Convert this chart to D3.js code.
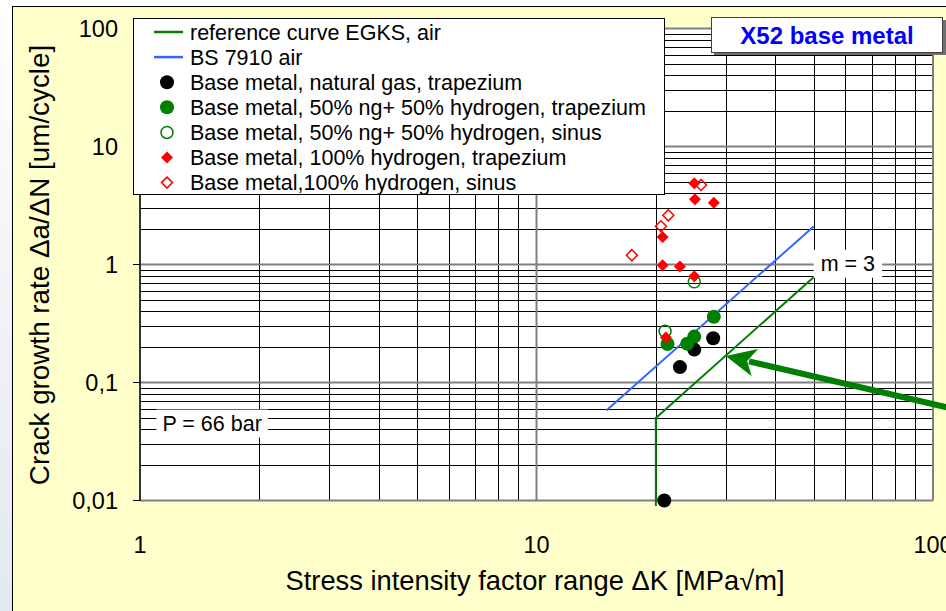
<!DOCTYPE html>
<html><head><meta charset="utf-8">
<script src="https://cdn.jsdelivr.net/npm/d3@7"></script>
<style>body{margin:0;background:#fff} svg{display:block}</style>
</head><body>
<svg id="chart" width="946" height="611"></svg>
<script>
// ---- axis ticks ----
const xTicks = [1, 10, 100];
const xTickLabels = ["1", "10", "100"];
const yTicks = [0.01, 0.1, 1, 10, 100];
const yTickLabels = ["0,01", "0,1", "1", "10", "100"];

// ---- reference curves (ΔK in MPa√m, da/dN in um/cycle) ----
const egksK = [20, 20, 50];
const egksRate = [0.009, 0.05, 0.78];
const bsK = [15, 50];
const bsRate = [0.058, 2.1];

// ---- measured crack growth rates ----
const ngK = [21.0, 23.0, 25.0, 27.9];
const ngRate = [0.01, 0.135, 0.19, 0.237];
const h50TrapK = [21.4, 24.0, 25.0, 28.0];
const h50TrapRate = [0.212, 0.213, 0.245, 0.361];
const h50SinK = [21.1, 25.0];
const h50SinRate = [0.272, 0.713];
const h100TrapK = [20.8, 20.8, 21.2, 23.0, 25.0, 25.0, 25.1, 28.0];
const h100TrapRate = [1.71, 0.986, 0.241, 0.962, 0.795, 4.87, 3.57, 3.34];
const h100SinK = [17.4, 20.6, 21.5, 26.0];
const h100SinRate = [1.20, 2.11, 2.61, 4.72];

// ---- annotations ----
const slopeLabel = {text: "m = 3", k: 61, rate: 1.03};
const pressureLabel = {text: "P = 66 bar", k: 1.52, rate: 0.0455};
const arrowFrom = [112, 0.06];
const arrowTo = [30, 0.168];

const legendItems = [
  {label: "reference curve EGKS, air", type: "line", color: "#008000"},
  {label: "BS 7910 air", type: "line", color: "#3366FF"},
  {label: "Base metal, natural gas, trapezium", type: "circle", fill: "#000", stroke: "#000"},
  {label: "Base metal, 50% ng+ 50% hydrogen, trapezium", type: "circle", fill: "#008000", stroke: "#008000"},
  {label: "Base metal, 50% ng+ 50% hydrogen, sinus", type: "circle", fill: "none", stroke: "#008000", small: true},
  {label: "Base metal, 100% hydrogen, trapezium", type: "diamond", fill: "#FF0000", stroke: "#FF0000"},
  {label: "Base metal,100% hydrogen, sinus", type: "diamond", fill: "none", stroke: "#FF0000"}
];

const FONT = "'Liberation Sans', Arial, sans-serif";
const svg = d3.select("#chart");

const x = d3.scaleLog().domain([1, 100]).range([140, 933]);
const y = d3.scaleLog().domain([0.01, 100]).range([500.5, 28.5]);

// page background
const defs = svg.append("defs");
const grad = defs.append("linearGradient").attr("id", "side").attr("x1", 0).attr("y1", 0).attr("x2", 0).attr("y2", 1);
grad.append("stop").attr("offset", "0%").attr("stop-color", "#ffffff");
grad.append("stop").attr("offset", "60%").attr("stop-color", "#eef0f6");
grad.append("stop").attr("offset", "100%").attr("stop-color", "#e4e8f0");
svg.append("rect").attr("x", 0).attr("y", 0).attr("width", 946).attr("height", 611).attr("fill", "#fff");
svg.append("rect").attr("x", 0).attr("y", 0).attr("width", 12).attr("height", 611).attr("fill", "url(#side)");
svg.append("rect").attr("x", 12.5).attr("y", 6.5).attr("width", 960).attr("height", 620)
  .attr("fill", "#FFFFCC").attr("stroke", "#000").attr("stroke-width", 1);

// plot area
svg.append("rect").attr("x", x(1)).attr("y", y(100)).attr("width", x(100) - x(1)).attr("height", y(0.01) - y(100)).attr("fill", "#fff");

function minorValues(lo, hi) {
  const out = [];
  for (let d = lo; d < hi; d *= 10) for (let m = 2; m <= 9; m++) out.push(+(d * m).toPrecision(3));
  return out;
}
const grid = svg.append("g");
grid.selectAll(".vmin").data(minorValues(1, 100)).join("line")
  .attr("x1", d => Math.round(x(d)) + 0.5).attr("x2", d => Math.round(x(d)) + 0.5)
  .attr("y1", y(100)).attr("y2", y(0.01)).attr("stroke", "#000").attr("stroke-width", 1);
grid.selectAll(".hmin").data(minorValues(0.01, 100)).join("line")
  .attr("y1", d => Math.round(y(d)) + 0.5).attr("y2", d => Math.round(y(d)) + 0.5)
  .attr("x1", x(1)).attr("x2", x(100)).attr("stroke", "#000").attr("stroke-width", 1);
grid.selectAll(".vmaj").data(xTicks).join("line")
  .attr("x1", d => x(d)).attr("x2", d => x(d)).attr("y1", y(100)).attr("y2", y(0.01))
  .attr("stroke", "#808080").attr("stroke-width", 2);
grid.selectAll(".hmaj").data(yTicks).join("line")
  .attr("y1", d => y(d)).attr("y2", d => y(d)).attr("x1", x(1)).attr("x2", x(100))
  .attr("stroke", "#808080").attr("stroke-width", 2);

// y axis line and ticks
svg.append("line").attr("x1", x(1)).attr("x2", x(1)).attr("y1", y(100)).attr("y2", y(0.01)).attr("stroke", "#000").attr("stroke-width", 1.2);
svg.selectAll(".ytick").data(yTicks).join("line")
  .attr("x1", x(1) - 7).attr("x2", x(1)).attr("y1", d => y(d)).attr("y2", d => y(d)).attr("stroke", "#000");

// tick labels
svg.selectAll(".ylab").data(yTicks).join("text")
  .attr("x", 118).attr("y", d => y(d)).attr("dy", "0.36em").attr("text-anchor", "end")
  .attr("font-family", FONT).attr("font-size", 23.5).attr("fill", "#000")
  .text((d, i) => yTickLabels[i]);
svg.selectAll(".xlab").data(xTicks).join("text")
  .attr("x", d => x(d)).attr("y", 553).attr("text-anchor", "middle")
  .attr("font-family", FONT).attr("font-size", 23.5).attr("fill", "#000")
  .text((d, i) => xTickLabels[i]);

// axis titles
svg.append("text").attr("x", 535).attr("y", 590).attr("text-anchor", "middle")
  .attr("font-family", FONT).attr("font-size", 27.3).attr("fill", "#000")
  .text("Stress intensity factor range ΔK [MPa√m]");
svg.append("text").attr("transform", "translate(49,265) rotate(-90)").attr("text-anchor", "middle")
  .attr("font-family", FONT).attr("font-size", 27.8).attr("fill", "#000")
  .text("Crack growth rate Δa/ΔN [um/cycle]");

// reference curves
const line = d3.line().x(d => x(d[0])).y(d => y(d[1]));
svg.append("path").datum(egksK.map((k, i) => [k, egksRate[i]])).attr("d", line)
  .attr("fill", "none").attr("stroke", "#008000").attr("stroke-width", 2);
svg.append("path").datum(bsK.map((k, i) => [k, bsRate[i]])).attr("d", line)
  .attr("fill", "none").attr("stroke", "#3366FF").attr("stroke-width", 2);

// label boxes on the grid
function boxLabel(lbl, pad) {
  const t = svg.append("text").attr("x", x(lbl.k)).attr("y", y(lbl.rate)).attr("dy", "0.36em")
    .attr("text-anchor", "middle").attr("font-family", FONT).attr("font-size", 21.5).attr("fill", "#000").text(lbl.text);
  const b = t.node().getBBox();
  svg.insert("rect", () => t.node()).attr("x", b.x - pad).attr("y", b.y - 2).attr("width", b.width + 2 * pad).attr("height", b.height + 4).attr("fill", "#fff");
}
boxLabel(slopeLabel, 7);
boxLabel(pressureLabel, 6);

// markers
function diamondPath(s) { return `M0,${-s}L${s},0L0,${s}L${-s},0Z`; }
function circles(ks, rates, r, fill, stroke, sw) {
  svg.append("g").selectAll("circle").data(ks.map((k, i) => [k, rates[i]])).join("circle")
    .attr("cx", d => x(d[0])).attr("cy", d => y(d[1])).attr("r", r)
    .attr("fill", fill).attr("stroke", stroke).attr("stroke-width", sw);
}
function diamonds(ks, rates, s, fill, stroke, sw) {
  svg.append("g").selectAll("path").data(ks.map((k, i) => [k, rates[i]])).join("path")
    .attr("transform", d => `translate(${x(d[0])},${y(d[1])})`).attr("d", diamondPath(s))
    .attr("fill", fill).attr("stroke", stroke).attr("stroke-width", sw);
}
circles(ngK, ngRate, 7, "#000", "#000", 0);
circles(h50TrapK, h50TrapRate, 7, "#008000", "#008000", 0);
circles(h50SinK, h50SinRate, 6, "none", "#008000", 1.5);
diamonds(h100TrapK, h100TrapRate, 6, "#FF0000", "#FF0000", 0);
diamonds(h100SinK, h100SinRate, 5.5, "none", "#FF0000", 1.5);

// arrow pointing at the EGKS curve
const ax0 = x(arrowFrom[0]), ay0 = y(arrowFrom[1]), ax1 = x(arrowTo[0]), ay1 = y(arrowTo[1]);
const ang = Math.atan2(ay1 - ay0, ax1 - ax0);
const headLen = 30, headHalf = 14;
const bx = ax1 - headLen * Math.cos(ang), by = ay1 - headLen * Math.sin(ang);
svg.append("line").attr("x1", ax0).attr("y1", ay0).attr("x2", bx + 6 * Math.cos(ang)).attr("y2", by + 6 * Math.sin(ang))
  .attr("stroke", "#008000").attr("stroke-width", 6);
svg.append("path").attr("d", `M${ax1},${ay1}L${bx - headHalf * Math.sin(ang)},${by + headHalf * Math.cos(ang)}L${bx + 8 * Math.cos(ang)},${by + 8 * Math.sin(ang)}L${bx + headHalf * Math.sin(ang)},${by - headHalf * Math.cos(ang)}Z`)
  .attr("fill", "#008000");

// legend
const lg = svg.append("g");
lg.append("rect").attr("x", 133.5).attr("y", 18.5).attr("width", 531).attr("height", 176).attr("fill", "#fff").attr("stroke", "#000");
legendItems.forEach((it, i) => {
  const cy = 32 + i * 25.1;
  if (it.type === "line") {
    lg.append("line").attr("x1", 154).attr("x2", 183).attr("y1", cy).attr("y2", cy).attr("stroke", it.color).attr("stroke-width", 2.5);
  } else if (it.type === "circle") {
    lg.append("circle").attr("cx", 167).attr("cy", cy).attr("r", it.small ? 6 : 7)
      .attr("fill", it.fill).attr("stroke", it.stroke).attr("stroke-width", it.small ? 1.5 : 0);
  } else {
    lg.append("path").attr("transform", `translate(167,${cy})`).attr("d", diamondPath(it.fill === "none" ? 5.5 : 6))
      .attr("fill", it.fill).attr("stroke", it.stroke).attr("stroke-width", it.fill === "none" ? 1.5 : 0);
  }
  lg.append("text").attr("x", 190).attr("y", cy).attr("dy", "0.36em").attr("font-family", FONT).attr("font-size", 21.5)
    .attr("fill", "#000").text(it.label);
});

// title box
const tb = svg.append("g");
tb.append("rect").attr("x", 714).attr("y", 20).attr("width", 232).attr("height", 35).attr("fill", "#707070");
tb.append("rect").attr("x", 711.5).attr("y", 17.5).attr("width", 231).attr("height", 35).attr("fill", "#fff").attr("stroke", "#404040");
tb.append("text").attr("x", 827).attr("y", 35).attr("dy", "0.36em").attr("text-anchor", "middle")
  .attr("font-family", FONT).attr("font-weight", "bold").attr("font-size", 24).attr("fill", "#0000FF").text("X52 base metal");
</script>
</body></html>
